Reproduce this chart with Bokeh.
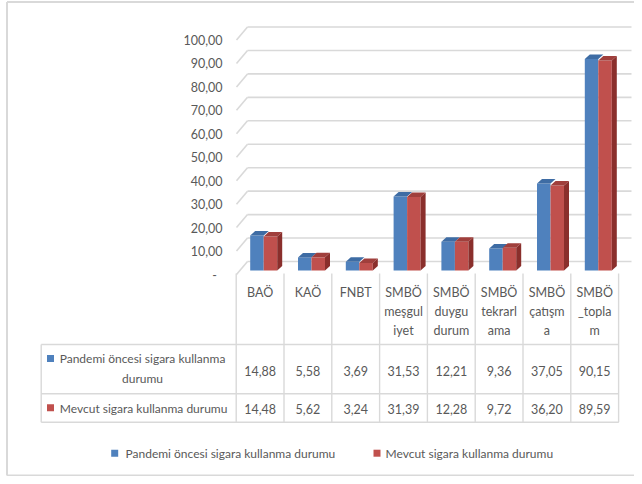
from bokeh.plotting import figure
from bokeh.models import Range1d
from bokeh.core.properties import value
from bokeh.embed import file_html
from bokeh.resources import INLINE

# ---------------- data ----------------
category_lines = [
    ["BAÖ"],
    ["KAÖ"],
    ["FNBT"],
    ["SMBÖ", "meşgul", "iyet"],
    ["SMBÖ", "duygu", "durum"],
    ["SMBÖ", "tekrarl", "ama"],
    ["SMBÖ", "çatışm", "a"],
    ["SMBÖ", "_topla", "m"],
]
pre_values = [14.88, 5.58, 3.69, 31.53, 12.21, 9.36, 37.05, 90.15]
cur_values = [14.48, 5.62, 3.24, 31.39, 12.28, 9.72, 36.20, 89.59]
series_names = ["Pandemi öncesi sigara kullanma durumu", "Mevcut sigara kullanma durumu"]
y_ticks = [0, 10, 20, 30, 40, 50, 60, 70, 80, 90, 100]
y_tick_labels = ["-", "10,00", "20,00", "30,00", "40,00", "50,00",
                 "60,00", "70,00", "80,00", "90,00", "100,00"]

# ---------------- styling / layout ----------------
W, H = 634, 476
X0, CW = 235.7, 47.8      # px of first category boundary, category width (px)
Y0, PU = 270.0, 2.345     # px of value 0 (bar base), px per value unit

def dx(px):
    return (px - X0) / CW

def dy(py):
    return (Y0 - py) / PU

BLUE, RED = "#4F81BD", "#C0504D"
BLUE_TOP, RED_TOP, RED_SIDE = "#3E6CA4", "#A03F3C", "#8A2F2C"
GRID = "#D9D9D9"
TXT = "#595959"
FONT = value("Lato")

p = figure(width=W, height=H,
           x_range=Range1d(dx(0), dx(W)), y_range=Range1d(dy(H), dy(0)),
           output_backend="svg", toolbar_location=None, min_border=0,
           x_axis_location=None, y_axis_location=None,
           outline_line_color=None,
           background_fill_color="white", border_fill_color="white")
p.grid.visible = False

# chart border
p.segment(x0=[dx(6.5), dx(6.5), dx(6.5)], y0=[dy(1.5), dy(1.5), dy(475)],
          x1=[dx(6.5), dx(W), dx(W)], y1=[dy(475), dy(1.5), dy(475)],
          line_color=GRID, line_width=2)

# back wall gridlines + side-wall diagonals
BACK = 9 / PU
FRONT = -4 / PU
p.segment(x0=[dx(247)] * len(y_ticks), y0=[v + BACK for v in y_ticks],
          x1=[dx(631)] * len(y_ticks), y1=[v + BACK for v in y_ticks],
          line_color=GRID, line_width=1.6)
p.segment(x0=[dx(236)] * len(y_ticks), y0=[v + FRONT for v in y_ticks],
          x1=[dx(247)] * len(y_ticks), y1=[v + BACK for v in y_ticks],
          line_color=GRID, line_width=1.6)

# y tick labels
p.text(x=[dx(216.5) if lab == "-" else dx(222) for lab in y_tick_labels],
       y=[v + FRONT for v in y_ticks], text=y_tick_labels,
       text_align="right", text_baseline="middle",
       text_font=FONT, text_font_size="12.5px", text_color=TXT)

# 3D clustered bars
OFF, BW = 14 / CW, 13.5 / CW
DX3, DY3 = 5 / CW, 4.5 / PU
n = len(pre_values)
bl = [i + OFF for i in range(n)]
br = [b + BW for b in bl]
rl = br
rr = [b + BW for b in rl]

p.quad(left=bl, right=br, bottom=0, top=pre_values, fill_color=BLUE, line_color=None)
p.patches(xs=[[a, b, b + DX3, a + DX3] for a, b in zip(bl, br)],
          ys=[[v, v, v + DY3, v + DY3] for v in pre_values],
          fill_color=BLUE_TOP, line_color=None)
p.quad(left=rl, right=rr, bottom=0, top=cur_values, fill_color=RED, line_color=None)
p.patches(xs=[[a, b, b + DX3, a + DX3] for a, b in zip(rl, rr)],
          ys=[[v, v, v + DY3, v + DY3] for v in cur_values],
          fill_color=RED_TOP, line_color=None)
p.patches(xs=[[b, b + DX3, b + DX3, b] for b in rr],
          ys=[[0, DY3, v + DY3, v] for v in cur_values],
          fill_color=RED_SIDE, line_color=None)

# data table grid
T_TOP, R1, R2, T_BOT = 273, 344, 393.3, 421.7
T_LEFT, T_RIGHT = 40.7, 618.3
vx = [float(i) for i in range(n + 1)]
p.segment(x0=vx, y0=[dy(T_TOP)] * len(vx), x1=vx, y1=[dy(T_BOT)] * len(vx),
          line_color=GRID, line_width=1.4)
p.segment(x0=[dx(T_LEFT)] * 3, y0=[dy(R1), dy(R2), dy(T_BOT)],
          x1=[dx(T_RIGHT)] * 3, y1=[dy(R1), dy(R2), dy(T_BOT)],
          line_color=GRID, line_width=1.4)
p.segment(x0=[dx(T_LEFT)], y0=[dy(R1)], x1=[dx(T_LEFT)], y1=[dy(T_BOT)],
          line_color=GRID, line_width=1.4)

# category labels (wrapped)
cx, cy, ct = [], [], []
for i, lines in enumerate(category_lines):
    for j, s in enumerate(lines):
        cx.append(i + 0.5)
        cy.append(dy(292 + 19 * j))
        ct.append(s)
p.text(x=cx, y=cy, text=ct, text_align="center", text_baseline="middle",
       text_font=FONT, text_font_size="12.5px", text_color=TXT)

def fmt(v):
    return f"{v:.2f}".replace(".", ",")

p.text(x=[i + 0.5 for i in range(n)], y=[dy(370)] * n, text=[fmt(v) for v in pre_values],
       text_align="center", text_baseline="middle",
       text_font=FONT, text_font_size="12.5px", text_color=TXT)
p.text(x=[i + 0.5 for i in range(n)], y=[dy(408)] * n, text=[fmt(v) for v in cur_values],
       text_align="center", text_baseline="middle",
       text_font=FONT, text_font_size="12.5px", text_color=TXT)

# row labels with keys
p.scatter(x=[dx(50), dx(50)], y=[dy(358), dy(407.3)], marker="square", size=7,
          fill_color=[BLUE, RED], line_color=None)
words = series_names[0].split(" ")
p.text(x=[dx(142), dx(142)], y=[dy(358), dy(378)],
       text=[" ".join(words[:-1]), words[-1]],
       text_align="center", text_baseline="middle",
       text_font=FONT, text_font_size="12px", text_color=TXT)
p.text(x=[dx(59.3)], y=[dy(407.5)], text=[series_names[1]],
       text_align="left", text_baseline="middle",
       text_font=FONT, text_font_size="12px", text_color=TXT)

# legend
p.scatter(x=[dx(114.2), dx(376.5)], y=[dy(452.7)] * 2, marker="square", size=7,
          fill_color=[BLUE, RED], line_color=None)
p.text(x=[dx(125), dx(385)], y=[dy(452.7)] * 2, text=series_names,
       text_align="left", text_baseline="middle",
       text_font=FONT, text_font_size="12px", text_color=TXT)

open("out.html", "w", encoding="utf-8").write(file_html(p, INLINE))
